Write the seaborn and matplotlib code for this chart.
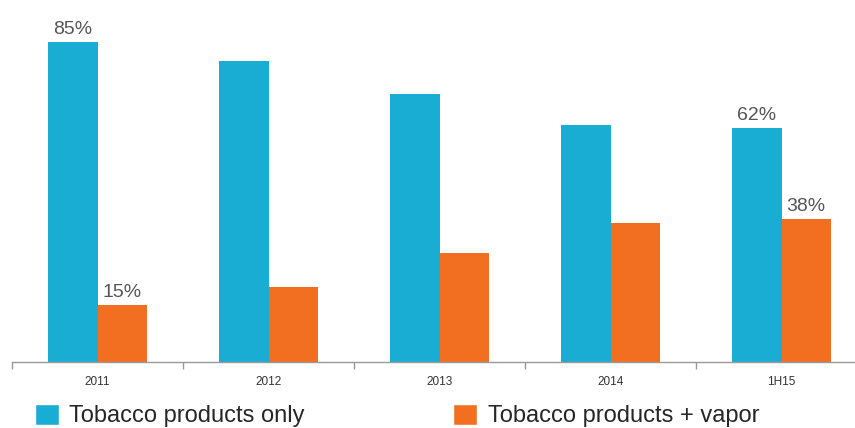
import numpy as np
import pandas as pd
import matplotlib
matplotlib.use("Agg")
import matplotlib.pyplot as plt
import seaborn as sns
from matplotlib.patches import Patch

years = ["2011", "2012", "2013", "2014", "1H15"]
tobacco_only = [85, 80, 71, 63, 62]
tobacco_vapor = [15, 20, 29, 37, 38]
series_names = ["Tobacco products only", "Tobacco products + vapor"]
labelled = ["2011", "1H15"]

blue = "#1AADD4"
orange = "#F26F21"

df = pd.DataFrame({
    "year": years * 2,
    "share": tobacco_only + tobacco_vapor,
    "series": [series_names[0]] * len(years) + [series_names[1]] * len(years),
})

sns.set_style("white")
plt.rcParams['font.family'] = ['Liberation Sans', 'DejaVu Sans']

fig = plt.figure(figsize=(8.55, 4.28), dpi=100)
ax = fig.add_axes([12 / 855, 66 / 428, 855 / 855, 358 / 428])

sns.barplot(data=df, x="year", y="share", hue="series", order=years,
            hue_order=series_names, palette=[blue, orange], width=0.575,
            gap=0, saturation=1, linewidth=0, legend=False, ax=ax)

ax.set_xlim(-0.5, 4.5)
ax.set_ylim(0, 95)
ax.set_xlabel("")
ax.set_ylabel("")
ax.set_yticks([])
ax.set_xticks(np.arange(len(years)))
ax.set_xticklabels(years, fontsize=8.5, color="#333333")
ax.set_xticks(np.arange(len(years) + 1) - 0.5, minor=True)
ax.tick_params(axis="x", which="major", bottom=False, length=0, pad=10)
ax.tick_params(axis="x", which="minor", bottom=True, length=5, width=1,
               color="#999999", direction="out")
for side in ["top", "right", "left"]:
    ax.spines[side].set_visible(False)
ax.spines["bottom"].set_color("#999999")
ax.spines["bottom"].set_linewidth(1)

# value labels only on first and last group
for container in ax.containers:
    for i, bar in enumerate(container):
        if years[i] in labelled:
            ax.annotate(f"{bar.get_height():.0f}%",
                        (bar.get_x() + bar.get_width() / 2, bar.get_height()),
                        xytext=(0, 3), textcoords="offset points",
                        ha="center", va="bottom", fontsize=14, color="#555555")

handles = [Patch(facecolor=blue, label=series_names[0]),
           Patch(facecolor=orange, label=series_names[1])]
fig.legend(handles=handles, loc="center left", bbox_to_anchor=(35 / 855, 12.5 / 428),
           ncol=2, frameon=False, fontsize=17, handlelength=1.0, handleheight=1.0,
           handletextpad=0.45, columnspacing=6.3, borderpad=0, borderaxespad=0)

fig.savefig("out.png", dpi=100)
